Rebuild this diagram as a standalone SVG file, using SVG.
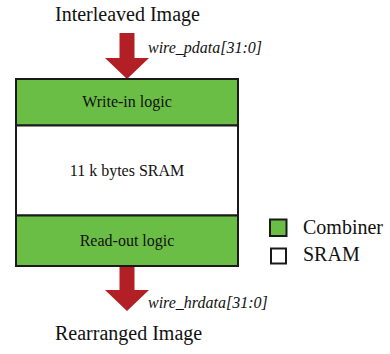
<svg xmlns="http://www.w3.org/2000/svg" width="390" height="354" viewBox="0 0 390 354">
<style>
text{font-family:"Liberation Serif","Times New Roman",serif;fill:#111}
.t{font-size:20px}
.b{font-size:16px;text-anchor:middle}
.w{font-size:16px;font-style:italic}
.l{font-size:20px}
.g{fill:#6BBE45;stroke:#1a1a1a;stroke-width:2}
.s{fill:#fff;stroke:#1a1a1a;stroke-width:2}
.arr{fill:#B22025}
</style>
<rect width="390" height="354" fill="#fff"/>
<text class="t" x="55" y="21">Interleaved Image</text>
<g id="connectors">
<polygon class="arr" points="119.5,33 134.5,33 134.5,58 149,58 127,79 105,58 119.5,58"/>
<polygon class="arr" points="119.5,266 134.5,266 134.5,290 149,290 127,311 105,290 119.5,290"/>
</g>
<text class="w" x="148" y="53">wire_pdata[31:0]</text>
<g id="writein">
<rect class="g" x="16" y="79" width="222" height="46.5"/>
<text class="b" x="127" y="107">Write-in logic</text>
</g>
<g id="sram">
<rect class="s" x="16" y="125.5" width="222" height="90"/>
<text class="b" x="127" y="176">11 k bytes SRAM</text>
</g>
<g id="readout">
<rect class="g" x="16" y="215.5" width="222" height="50.5"/>
<text class="b" x="127" y="246">Read-out logic</text>
</g>
<text class="w" x="148" y="308">wire_hrdata[31:0]</text>
<text class="t" x="55" y="340">Rearranged Image</text>
<g id="legend">
<rect class="g" x="270" y="219.5" width="16.5" height="16.5"/>
<text class="l" x="303" y="234">Combiner</text>
<rect class="s" x="271" y="248.5" width="15" height="15"/>
<text class="l" x="303" y="261">SRAM</text>
</g>
</svg>
